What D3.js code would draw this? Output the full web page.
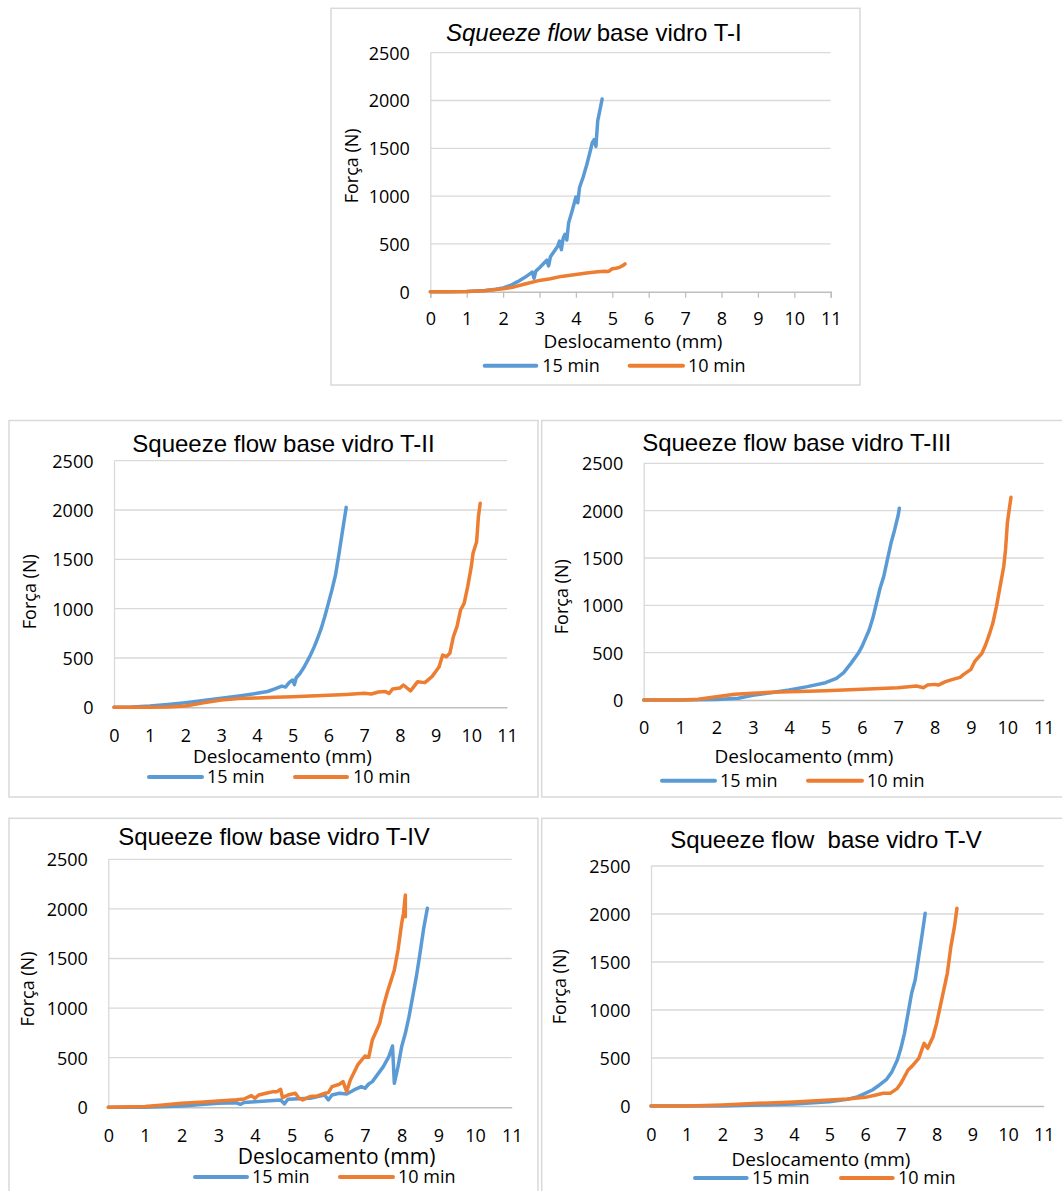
<!DOCTYPE html>
<html>
  <head>
    <meta charset="utf-8">
    <title>Squeeze flow base vidro</title>
    <style>
    body { margin: 0; background: #fff; }
    svg { display: block; }
    .title { font-family: "Liberation Sans", Arial, sans-serif; font-size: 24px; fill: #000; white-space: pre; }
    .axis text, .lbl { font-family: "Open Sans", sans-serif; fill: #000; }
    .grid line { stroke: #d9d9d9; stroke-width: 1.3px; }
    </style>
  </head>
  <body>
    <script src="https://cdn.jsdelivr.net/npm/d3@7"></script>
    <script>

    // ---- data (Deslocamento mm, Força N) ----
    var xTicks = [0, 1, 2, 3, 4, 5, 6, 7, 8, 9, 10, 11];
    var yTicks = [0, 500, 1000, 1500, 2000, 2500];
    var seriesNames = ["15 min", "10 min"];

    var t1_15 = [[0,0],[0.5,0],[1,3],[1.5,12],[1.8,25],[2,40],[2.2,65],[2.4,105],[2.6,150],[2.8,205],[2.85,140],[2.9,215],
      [3.0,250],[3.1,290],[3.2,330],[3.25,270],[3.3,365],[3.4,420],[3.5,475],[3.55,530],[3.6,440],[3.65,560],[3.7,600],
      [3.75,540],[3.8,720],[3.9,850],[4.0,990],[4.05,930],[4.1,1090],[4.2,1200],[4.3,1330],[4.4,1480],[4.45,1560],
      [4.5,1590],[4.55,1520],[4.6,1790],[4.65,1880],[4.72,2015]];
    var t1_10 = [[0,0],[0.5,0],[1,2],[1.5,10],[2,30],[2.3,50],[2.6,80],[3,118],[3.3,135],[3.6,160],[4,180],[4.3,195],
      [4.6,208],[4.8,215],[4.9,212],[5.0,240],[5.1,245],[5.2,255],[5.3,275],[5.35,290]];

    var t2_15 = [[0,0],[0.5,3],[1,13],[1.5,28],[2,47],[2.5,68],[3,91],[3.5,115],[4,142],[4.3,160],[4.5,186],[4.7,215],
      [4.8,205],[4.9,250],[5,277],[5.05,230],[5.1,300],[5.2,340],[5.3,395],[5.4,460],[5.5,530],[5.6,610],[5.7,700],
      [5.8,800],[5.9,920],[6.0,1054],[6.1,1190],[6.2,1341],[6.3,1561],[6.4,1797],[6.5,2027]];
    var t2_10 = [[0,0],[1,0],[1.5,3],[2,13],[2.5,45],[3,74],[3.5,88],[4,95],[4.5,101],[5,108],[5.5,115],[6,122],
      [6.5,130],[7,142],[7.2,135],[7.4,155],[7.6,159],[7.7,140],[7.8,186],[8,195],[8.1,226],[8.3,166],[8.5,260],
      [8.7,250],[8.9,311],[9,361],[9.1,412],[9.2,530],[9.3,513],[9.4,547],[9.5,716],[9.6,818],[9.7,986],[9.8,1054],
      [9.9,1223],[10,1426],[10.05,1561],[10.15,1679],[10.2,1932],[10.25,2068]];

    var t3_15 = [[0,0],[1,0],[2,5],[2.6,18],[3,50],[3.5,77],[4,106],[4.5,141],[5,183],[5.3,229],[5.5,289],[5.7,387],
      [5.9,493],[6.0,563],[6.1,651],[6.2,739],[6.3,863],[6.4,1021],[6.5,1180],[6.6,1303],[6.7,1479],[6.8,1655],
      [6.9,1796],[7.0,1954],[7.03,2025]];
    var t3_10 = [[0,0],[1,0],[1.5,7],[2,35],[2.5,60],[3,70],[3.5,81],[4,88],[5,99],[6,113],[7,130],[7.5,148],[7.7,130],
      [7.8,158],[8,165],[8.1,158],[8.3,194],[8.5,218],[8.7,239],[8.8,271],[9.0,324],[9.1,405],[9.3,493],[9.4,581],
      [9.5,687],[9.6,810],[9.7,986],[9.8,1197],[9.9,1408],[9.95,1585],[10.0,1866],[10.05,2007],[10.1,2141]];

    var t4_15 = [[0,0],[1,0],[2,13],[3,40],[3.5,45],[3.6,30],[3.7,48],[4,57],[4.7,74],[4.8,34],[4.9,81],[5.5,91],
      [5.9,124],[6.0,74],[6.1,124],[6.3,141],[6.5,134],[6.7,175],[6.9,208],[7.0,192],[7.1,235],[7.2,259],[7.3,309],
      [7.5,410],[7.65,511],[7.75,618],[7.8,242],[7.9,410],[8.0,612],[8.1,746],[8.2,914],[8.3,1116],[8.4,1317],
      [8.5,1552],[8.6,1804],[8.7,2006]];
    var t4_10 = [[0,0],[1,7],[1.5,24],[2,40],[2.5,50],[3,64],[3.5,77],[3.7,84],[3.9,118],[4.0,91],[4.1,124],[4.3,141],
      [4.5,158],[4.6,158],[4.7,181],[4.75,97],[4.9,124],[5.1,141],[5.2,91],[5.3,74],[5.5,108],[5.7,114],[5.9,141],
      [6.0,148],[6.1,208],[6.3,232],[6.4,259],[6.5,158],[6.6,276],[6.8,427],[7.0,517],[7.1,504],[7.2,679],[7.4,847],
      [7.5,1015],[7.6,1149],[7.7,1267],[7.8,1385],[7.9,1586],[8.0,1855],[8.05,1956],[8.1,2141],[8.1,1922]];

    var t5_15 = [[0,0],[1,0],[2,0],[3,10],[4,21],[5,45],[5.5,69],[5.8,97],[6.0,132],[6.2,167],[6.4,219],[6.6,278],
      [6.75,358],[6.9,479],[7.0,601],[7.1,757],[7.2,965],[7.3,1174],[7.4,1313],[7.5,1556],[7.6,1799],[7.68,2007]];
    var t5_10 = [[0,0],[1,0],[2,10],[3,28],[4,42],[5,62],[5.5,73],[6,90],[6.3,115],[6.5,132],[6.7,132],[6.9,184],
      [7.0,236],[7.2,375],[7.3,410],[7.5,497],[7.65,653],[7.75,601],[7.9,722],[8.0,861],[8.1,1035],[8.2,1208],
      [8.3,1382],[8.4,1660],[8.5,1868],[8.57,2059]];

    var colors = ["#5b9bd5", "#ed7d31"];

    // ---- layout of the five chart boxes ----
    var panels = [
      { title: ["Squeeze flow", " base vidro T-I"], italic: true, s15: t1_15, s10: t1_10,
        box: [331, 8.3, 860, 385], plot: [430.3, 830.7, 52.7, 291.7], tick: 6,
        tx: 593.8, ty: 40.7, xlY: 319, xtX: 633, xtY: 348.3, xtSize: 19, ytX: 352, ytY: 165.8,
        legY: 365.7, leg: [484.7, 536.3, 542.3, 629.7, 683, 688] },
      { title: ["Squeeze flow base vidro T-II"], s15: t2_15, s10: t2_10,
        box: [9, 420.5, 538, 797], plot: [114, 507, 460.7, 707.3], tick: 0,
        tx: 283.5, ty: 452, xlY: 735.7, xtX: 282.5, xtY: 762.7, xtSize: 19, ytX: 30, ytY: 591.7,
        legY: 777, leg: [149, 202, 207, 295, 347, 353] },
      { title: ["Squeeze flow base vidro T-III"], s15: t3_15, s10: t3_10,
        box: [541.7, 420.5, 1070, 797], plot: [643.7, 1043.7, 463.3, 700], tick: 0,
        tx: 796.7, ty: 451, xlY: 727.7, xtX: 804, xtY: 763.3, xtSize: 19, ytX: 561.7, ytY: 596.7,
        legY: 780.7, leg: [662, 715, 720, 808, 862, 867] },
      { title: ["Squeeze flow base vidro T-IV"], s15: t4_15, s10: t4_10,
        box: [9, 818.3, 538, 1210], plot: [108.3, 511.7, 859.3, 1107.3], tick: 0,
        tx: 274, ty: 845, xlY: 1135.7, xtX: 336.5, xtY: 1164, xtSize: 21, ytX: 28, ytY: 989,
        legY: 1177, leg: [195, 247, 252, 340, 393, 398] },
      { title: ["Squeeze flow  base vidro T-V"], s15: t5_15, s10: t5_10,
        box: [541.7, 818.3, 1070, 1210], plot: [651, 1043.7, 866, 1106], tick: 0,
        tx: 826, ty: 847.7, xlY: 1135, xtX: 821, xtY: 1165.5, xtSize: 19, ytX: 560, ytY: 986.7,
        legY: 1178, leg: [695, 746.7, 752, 841, 892.7, 898] }
    ];

    var svg = d3.select("body").append("svg")
        .attr("width", 1062)
        .attr("height", 1191);

    panels.forEach(function(p) {
      var g = svg.append("g");

      g.append("rect")
          .attr("x", p.box[0]).attr("y", p.box[1])
          .attr("width", p.box[2] - p.box[0]).attr("height", p.box[3] - p.box[1])
          .attr("fill", "#fff")
          .attr("stroke", "#d9d9d9")
          .attr("stroke-width", 1.5);

      var x = d3.scaleLinear().domain([0, 11]).range([p.plot[0], p.plot[1]]);
      var y = d3.scaleLinear().domain([0, 2500]).range([p.plot[3], p.plot[2]]);

      // horizontal gridlines
      g.append("g").attr("class", "grid")
        .selectAll("line")
        .data(yTicks.filter(function(d) { return d > 0; }))
        .enter().append("line")
          .attr("x1", x(0)).attr("x2", x(11))
          .attr("y1", function(d) { return y(d); })
          .attr("y2", function(d) { return y(d); });

      // y axis
      var ya = g.append("g").attr("class", "axis")
          .attr("transform", "translate(" + x(0) + ",0)")
          .call(d3.axisLeft(y).tickValues(yTicks).tickFormat(d3.format("d"))
            .tickSize(0).tickPadding(20.5));
      ya.select(".domain").attr("stroke", "#d9d9d9").attr("stroke-width", 1.3);
      ya.selectAll("text").attr("font-size", 18).attr("dy", "0.36em");

      // x axis
      var xa = g.append("g").attr("class", "axis")
          .attr("transform", "translate(0," + y(0) + ")")
          .call(d3.axisBottom(x).tickValues(xTicks).tickFormat(d3.format("d"))
            .tickSize(p.tick).tickSizeOuter(p.tick));
      xa.select(".domain").attr("stroke", "#bfbfbf").attr("stroke-width", 1.5);
      xa.selectAll(".tick line").attr("stroke", "#bfbfbf").attr("stroke-width", 1.3);
      xa.selectAll("text")
          .attr("font-size", 18)
          .attr("dy", null)
          .attr("y", p.xlY - y(0) + 6.4);

      // data lines
      var line = d3.line()
          .x(function(d) { return x(d[0]); })
          .y(function(d) { return y(d[1]); });

      [p.s15, p.s10].forEach(function(s, i) {
        g.append("path")
            .datum(s)
            .attr("fill", "none")
            .attr("stroke", colors[i])
            .attr("stroke-width", 3.5)
            .attr("stroke-linejoin", "round")
            .attr("stroke-linecap", "round")
            .attr("d", line);
      });

      // title
      var t = g.append("text")
          .attr("class", "title")
          .attr("x", p.tx).attr("y", p.ty)
          .attr("text-anchor", "middle");
      p.title.forEach(function(part, i) {
        t.append("tspan")
            .attr("font-style", (p.italic && i === 0) ? "italic" : "normal")
            .text(part);
      });

      // axis titles
      g.append("text")
          .attr("class", "lbl")
          .attr("x", p.xtX).attr("y", p.xtY)
          .attr("text-anchor", "middle")
          .attr("font-size", p.xtSize)
          .text("Deslocamento (mm)");

      g.append("text")
          .attr("class", "lbl")
          .attr("transform", "translate(" + p.ytX + "," + p.ytY + ") rotate(-90)")
          .attr("text-anchor", "middle")
          .attr("dy", "0.36em")
          .attr("font-size", 18)
          .text("Força (N)");

      // legend
      [0, 1].forEach(function(i) {
        var o = i * 3;
        g.append("line")
            .attr("x1", p.leg[o]).attr("x2", p.leg[o + 1])
            .attr("y1", p.legY).attr("y2", p.legY)
            .attr("stroke", colors[i])
            .attr("stroke-width", 4)
            .attr("stroke-linecap", "round");
        g.append("text")
            .attr("class", "lbl")
            .attr("x", p.leg[o + 2]).attr("y", p.legY + 6.4)
            .attr("font-size", 18)
            .text(seriesNames[i]);
      });
    });

    </script>
  </body>
</html>
